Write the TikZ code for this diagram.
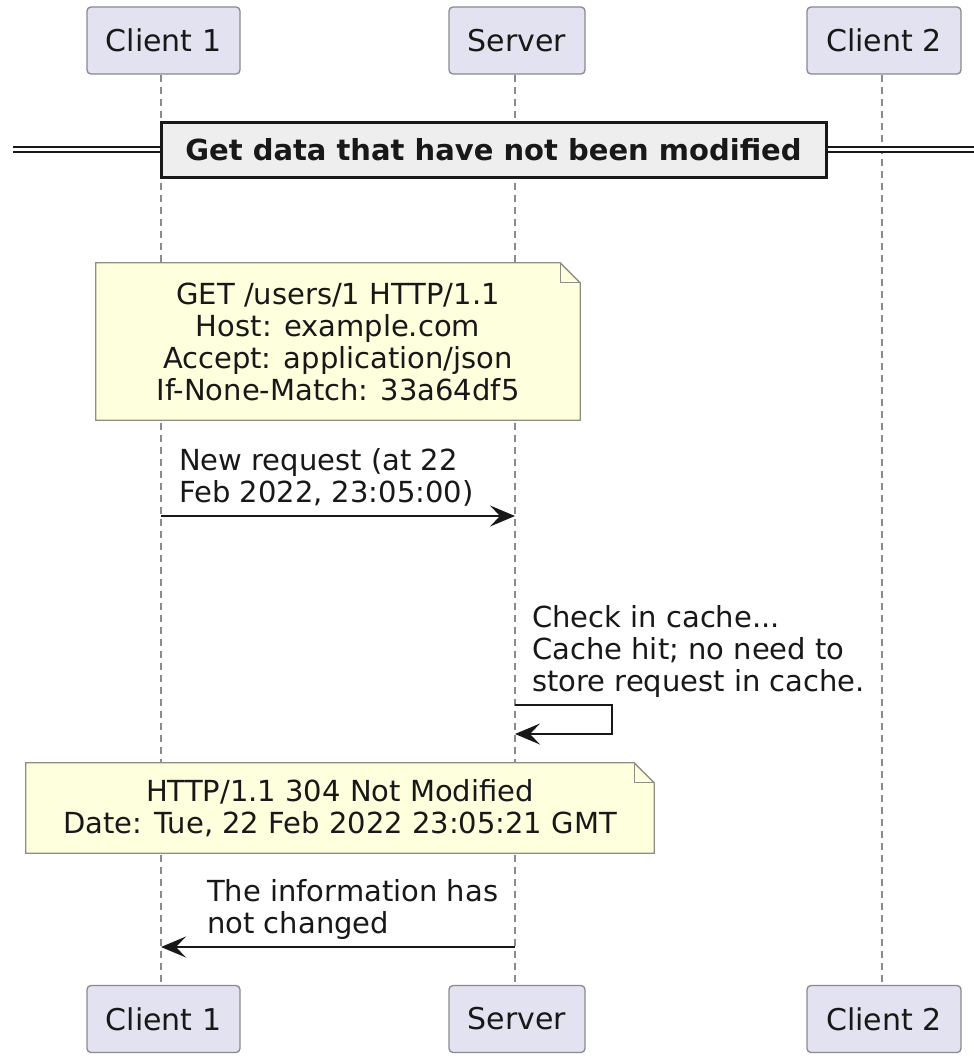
\documentclass[tikz,border=0pt]{standalone}
\usepackage{fontspec}
\setmainfont{DejaVu Sans}
\usetikzlibrary{arrows.meta,calc}
\definecolor{partfill}{HTML}{E2E2F0}
\definecolor{partline}{HTML}{8A8A90}
\definecolor{notefill}{HTML}{FEFFDD}
\definecolor{noteline}{HTML}{8E8E84}
\definecolor{ink}{HTML}{181818}
\definecolor{divfill}{HTML}{EEEEEE}
\pgfdeclarelayer{lines}
\pgfdeclarelayer{paper}
\pgfsetlayers{lines,paper,main}
\tikzset{
  txt/.style={font=\fontsize{29}{32}\selectfont, text=ink},
  participant/.style={font=\fontsize{30}{32}\selectfont, text=ink, draw=partline,
    fill=partfill, rounded corners=4pt,
    line width=1.3pt, minimum height=67pt, inner sep=0pt},
  lifeline/.style={draw=partline, line width=1.2pt, dash pattern=on 7pt off 5pt},
  msg/.style={draw=ink, line width=1.8pt,
    -{Stealth[length=25pt,width=21pt,inset=10pt]}},
  msgtext/.style={txt, align=left, anchor=west, inner sep=0pt},
  notebox/.style={txt, align=center, inner sep=0pt},
  notepaper/.style={draw=noteline, fill=notefill, line width=1.3pt, line join=miter},
  divider/.style={draw=ink, fill=divfill, line width=3pt, minimum width=665pt,
    minimum height=55pt, inner sep=0pt,
    font=\fontsize{29}{32}\selectfont\bfseries, text=ink},
  divline/.style={draw=ink, line width=1.4pt, double=white, double distance=3.6pt}
}
% folded-corner outline around a named node
\newcommand{\foldnote}[1]{%
  \begin{pgfonlayer}{paper}
    \draw[notepaper] (#1.north west) -- ([xshift=-20pt]#1.north east)
      -- ([yshift=-20pt]#1.north east) -- (#1.south east) -- (#1.south west) -- cycle;
    \draw[notepaper, fill=none] ([xshift=-20pt]#1.north east)
      -- ([xshift=-20pt,yshift=-20pt]#1.north east) -- ([yshift=-20pt]#1.north east);
  \end{pgfonlayer}}
\begin{document}
\begin{tikzpicture}[x=1pt, y=-1pt]
  \useasboundingbox (0,0) rectangle (974,1057);

  % participants, head and foot
  \node[participant, minimum width=153pt] (c1top) at (163.5,40.5) {Client 1};
  \node[participant, minimum width=136pt] (srvtop) at (517,40.5) {Server};
  \node[participant, minimum width=154pt] (c2top) at (884,40.5) {Client 2};
  \node[participant, minimum width=153pt] (c1bot) at (163.5,1019) {Client 1};
  \node[participant, minimum width=136pt] (srvbot) at (517,1019) {Server};
  \node[participant, minimum width=154pt] (c2bot) at (884,1019) {Client 2};

  % lifeline x positions
  \coordinate (l1) at (161,0);
  \coordinate (ls) at (515,0);
  \coordinate (l2) at (882,0);
  \begin{pgfonlayer}{lines}
    \draw[lifeline] (l1 |- c1top.south) -- (l1 |- c1bot.north);
    \draw[lifeline] (ls |- srvtop.south) -- (ls |- srvbot.north);
    \draw[lifeline] (l2 |- c2top.south) -- (l2 |- c2bot.north);
  \end{pgfonlayer}

  % section divider
  \node[divider] (div) at (493.5,149.5) {Get data that have not been modified};
  \coordinate (divL) at (13,149.5);
  \coordinate (divR) at (974,149.5);
  \draw[divline] (divL) -- (div.west);
  \draw[divline] (div.east) -- (divR);

  % request note
  \node[notebox, minimum width=484pt, minimum height=157pt] (n1) at (338,341.5)
    {GET /users/1 HTTP/1.1\\Host: example.com\\Accept: application/json\\If-None-Match: 33a64df5};
  \foldnote{n1}

  % request message
  \coordinate (m1a) at (l1 |- 0,516);
  \coordinate (m1b) at (ls |- 0,516);
  \node[msgtext] (t1) at (179,477) {New request (at 22\\Feb 2022, 23:05:00)};
  \draw[msg] (m1a) -- (m1b);

  % self message on the server
  \node[msgtext] (t2) at (532,651) {Check in cache...\\Cache hit; no need to\\store request in cache.};
  \coordinate (s1) at (ls |- 0,705);
  \coordinate (s2) at (ls |- 0,734);
  \coordinate (sc1) at (612,705);
  \coordinate (sc2) at (612,734);
  \draw[msg] (s1) -- (sc1) -- (sc2) -- (s2);

  % response note
  \node[notebox, minimum width=628pt, minimum height=90pt] (n2) at (340,808)
    {HTTP/1.1 304 Not Modified\\Date: Tue, 22 Feb 2022 23:05:21 GMT};
  \foldnote{n2}

  % response message
  \coordinate (m2a) at (ls |- 0,947);
  \coordinate (m2b) at (l1 |- 0,947);
  \node[msgtext] (t3) at (207,909) {The information has\\not changed};
  \draw[msg] (m2a) -- (m2b);
\end{tikzpicture}
\end{document}
